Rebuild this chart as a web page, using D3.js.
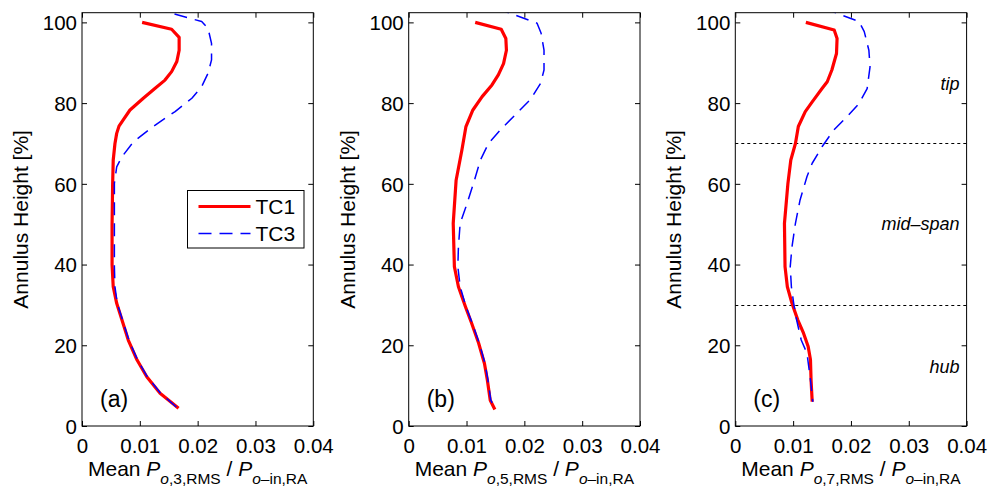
<!DOCTYPE html>
<html>
<head>
<meta charset="utf-8">
<script src="https://cdn.jsdelivr.net/npm/d3@7"></script>
<style>
  html, body { margin: 0; padding: 0; background: #fff; }
  svg { display: block; font-family: "Liberation Sans", Arial, Helvetica, sans-serif; }
</style>
</head>
<body>
<svg id="chart" width="989" height="490"></svg>
<script>
// ---- data: [mean value, annulus height %] ----
const panelLabels = ["(a)", "(b)", "(c)"];
const harmonics = ["3", "5", "7"];
const seriesNames = ["TC1", "TC3"];
const xTicks = [0, 0.01, 0.02, 0.03, 0.04];
const yTicks = [0, 20, 40, 60, 80, 100];
const zoneLines = [30, 70];
const zoneLabels = [["tip", 84.8], ["mid–span", 50], ["hub", 14.6]];

const a_TC1 = [[0.0104,100],[0.0155,98.3],[0.0168,96.3],[0.0168,93.1],[0.0164,90.3],[0.0155,87.8],[0.01435,85.7],[0.0126,83.6],[0.0106,81.2],[0.0083,78.3],[0.0071,75.8],[0.0064,74.3],[0.0060,72.5],[0.0057,70.0],[0.0054,65.9],[0.0053,60.1],[0.0052,50],[0.0052,40],[0.0054,34.5],[0.0060,30.4],[0.0069,26.3],[0.0080,21.3],[0.0095,16.4],[0.0112,12.2],[0.0135,8.1],[0.0167,4.4]];
const a_TC3 = [[0.0125,103.5],[0.0207,100.2],[0.0218,98.5],[0.0224,94.8],[0.0224,90.7],[0.0218,87.4],[0.0207,84.1],[0.0190,81.2],[0.0161,77.9],[0.0123,74.2],[0.0089,70.4],[0.0069,66.7],[0.0060,64.2],[0.0056,60.1],[0.0056,50],[0.0056,39.5],[0.0057,34.5],[0.0061,30.4],[0.0070,26.3],[0.0081,21.3],[0.0096,16.4],[0.0113,12.2],[0.0136,8.1],[0.0168,4.1]];

const b_TC1 = [[0.0115,100],[0.0160,98.3],[0.0168,96.0],[0.0169,93.1],[0.0164,89.8],[0.0155,87.0],[0.0144,84.5],[0.0127,81.6],[0.0111,78.3],[0.0099,74.2],[0.0092,68.4],[0.0082,60.9],[0.0077,50.2],[0.0079,39.5],[0.0086,34.5],[0.0098,29.6],[0.0109,25.4],[0.0121,20.5],[0.0131,15.5],[0.0136,11.4],[0.0141,6.4],[0.0149,4.1]];
const b_TC3 = [[0.0152,103.5],[0.0222,99.8],[0.0229,97.3],[0.0234,93.1],[0.0234,88.2],[0.0228,84.9],[0.0210,80.8],[0.0187,77.5],[0.0158,73.3],[0.0138,70.0],[0.0124,65.9],[0.0112,60.1],[0.0099,54.3],[0.0089,50.2],[0.0086,44.4],[0.0085,39.5],[0.0089,34.5],[0.0099,29.6],[0.0110,25.4],[0.0122,20.5],[0.0132,15.5],[0.0137,11.4],[0.0142,6.4],[0.0150,4.1]];

const c_TC1 = [[0.0122,100],[0.0171,98.1],[0.0176,96.0],[0.0175,92.3],[0.0167,88.2],[0.0159,85.3],[0.0150,83.6],[0.0133,80.3],[0.0121,77.9],[0.0109,74.2],[0.0104,70.0],[0.0096,65.9],[0.0091,60.1],[0.0085,50.2],[0.0086,39.5],[0.0090,34.5],[0.0098,30.4],[0.0108,26.3],[0.0118,23.0],[0.0126,19.7],[0.0130,16.4],[0.0131,11.4],[0.0133,6.0]];
const c_TC3 = [[0.0153,103.5],[0.0214,100.2],[0.0223,97.7],[0.0231,93.1],[0.0233,89.0],[0.0228,83.6],[0.0214,79.9],[0.0193,76.6],[0.0170,73.3],[0.0150,69.2],[0.0133,65.1],[0.0124,61.8],[0.0112,56.0],[0.0104,50.2],[0.0098,44.4],[0.0095,39.5],[0.0097,34.5],[0.0101,30.4],[0.0106,26.3],[0.0114,21.3],[0.0124,18.0],[0.0130,11.4],[0.0134,6.0]];

const panelData = [[a_TC1, a_TC3], [b_TC1, b_TC3], [c_TC1, c_TC3]];

// ---- layout ----
const lefts = [82, 408.7, 735.3];
const plotW = 231.3;
const plotTop = 12.7, plotBottom = 426;
const tickFont = 20.5, labelFont = 21, subFont = 15.5;

const svg = d3.select("#chart");
const defs = svg.append("defs");

const y = d3.scaleLinear().domain([0, 102.4]).range([plotBottom, plotTop]);

const styles = [
  { color: "#ff0000", width: 3.2, dash: null },
  { color: "#0000ff", width: 1.5, dash: "13,8" }
];

panelData.forEach((series, i) => {
  const x0 = lefts[i];
  const x = d3.scaleLinear().domain([0, 0.04]).range([x0, x0 + plotW]);
  const g = svg.append("g");

  defs.append("clipPath").attr("id", "clip" + i)
    .append("rect").attr("x", x0).attr("y", plotTop).attr("width", plotW).attr("height", plotBottom - plotTop);

  if (i === 2) {
    zoneLines.forEach(v => {
      g.append("line")
        .attr("x1", x0).attr("x2", x0 + plotW)
        .attr("y1", Math.round(y(v)) + 0.5).attr("y2", Math.round(y(v)) + 0.5)
        .attr("stroke", "#000").attr("stroke-width", 1)
        .attr("stroke-dasharray", "3,3");
    });
    zoneLabels.forEach(([t, v]) => {
      g.append("text")
        .attr("x", x0 + plotW - 7).attr("y", y(v))
        .attr("text-anchor", "end").attr("dy", "0.35em")
        .attr("font-size", 18).attr("font-style", "italic")
        .text(t);
    });
  }

  const line = d3.line().x(d => x(d[0])).y(d => y(d[1]));
  const lg = g.append("g").attr("clip-path", `url(#clip${i})`);
  series.forEach((s, k) => {
    const st = styles[k];
    lg.append("path").datum(s)
      .attr("d", line)
      .attr("fill", "none")
      .attr("stroke", st.color)
      .attr("stroke-width", st.width)
      .attr("stroke-linejoin", "round")
      .attr("stroke-dasharray", st.dash);
  });

  const tickLen = 5;
  const axB = g.append("g").attr("transform", `translate(0,${plotBottom})`)
    .call(d3.axisBottom(x).tickValues(xTicks).tickSizeInner(-tickLen).tickSizeOuter(0)
      .tickPadding(12).tickFormat(d => d === 0 ? "0" : d3.format(".2f")(d)));
  const axT = g.append("g").attr("transform", `translate(0,${plotTop})`)
    .call(d3.axisTop(x).tickValues(xTicks).tickSizeInner(-tickLen).tickSizeOuter(0).tickFormat(""));
  const axL = g.append("g").attr("transform", `translate(${x0},0)`)
    .call(d3.axisLeft(y).tickValues(yTicks).tickSizeInner(-tickLen).tickSizeOuter(0).tickPadding(5));
  const axR = g.append("g").attr("transform", `translate(${x0 + plotW},0)`)
    .call(d3.axisRight(y).tickValues(yTicks).tickSizeInner(-tickLen).tickSizeOuter(0).tickFormat(""));
  [axB, axT, axL, axR].forEach(a => {
    a.selectAll(".domain").remove();
    a.selectAll(".tick line").attr("stroke", "#000");
    a.selectAll("text").attr("font-size", tickFont).attr("font-family", null).attr("fill", "#000");
  });
  axB.selectAll(".tick text").attr("dy", "0.71em");
  axL.selectAll(".tick text").attr("dy", "0.36em");

  g.append("rect")
    .attr("x", x0).attr("y", plotTop).attr("width", plotW).attr("height", plotBottom - plotTop)
    .attr("fill", "none").attr("stroke", "#000").attr("stroke-width", 1);

  g.append("text").attr("x", x0 + 18).attr("y", 407)
    .attr("font-size", 23).text(panelLabels[i]);

  g.append("text")
    .attr("transform", `translate(${x0 - 54},${(plotTop + plotBottom) / 2}) rotate(-90)`)
    .attr("text-anchor", "middle").attr("font-size", labelFont)
    .text("Annulus Height [%]");

  const xl = g.append("text")
    .attr("x", x0 + plotW / 2).attr("y", 476)
    .attr("text-anchor", "middle").attr("font-size", labelFont);
  xl.append("tspan").text("Mean ");
  xl.append("tspan").attr("font-style", "italic").text("P");
  xl.append("tspan").attr("font-size", subFont).attr("dy", 8).attr("font-style", "italic").text("o");
  xl.append("tspan").attr("font-size", subFont).text("," + harmonics[i] + ",RMS");
  xl.append("tspan").attr("dy", -8).text(" / ");
  xl.append("tspan").attr("font-style", "italic").text("P");
  xl.append("tspan").attr("font-size", subFont).attr("dy", 8).attr("font-style", "italic").text("o");
  xl.append("tspan").attr("font-size", subFont).text("–in,RA");

  if (i === 0) {
    const lx = 187.5, ly = 190.5, lw = 116.5, lh = 57.5;
    const leg = g.append("g");
    leg.append("rect").attr("x", lx).attr("y", ly).attr("width", lw).attr("height", lh)
      .attr("fill", "#fff").attr("stroke", "#000").attr("stroke-width", 1);
    seriesNames.forEach((n, k) => {
      const yy = ly + 16 + k * 27;
      leg.append("line").attr("x1", lx + 11).attr("x2", lx + 63)
        .attr("y1", yy).attr("y2", yy)
        .attr("stroke", styles[k].color).attr("stroke-width", styles[k].width)
        .attr("stroke-dasharray", styles[k].dash);
      leg.append("text").attr("x", lx + 68).attr("y", yy).attr("dy", "0.36em")
        .attr("font-size", 21).text(n);
    });
  }
});
</script>
</body>
</html>
